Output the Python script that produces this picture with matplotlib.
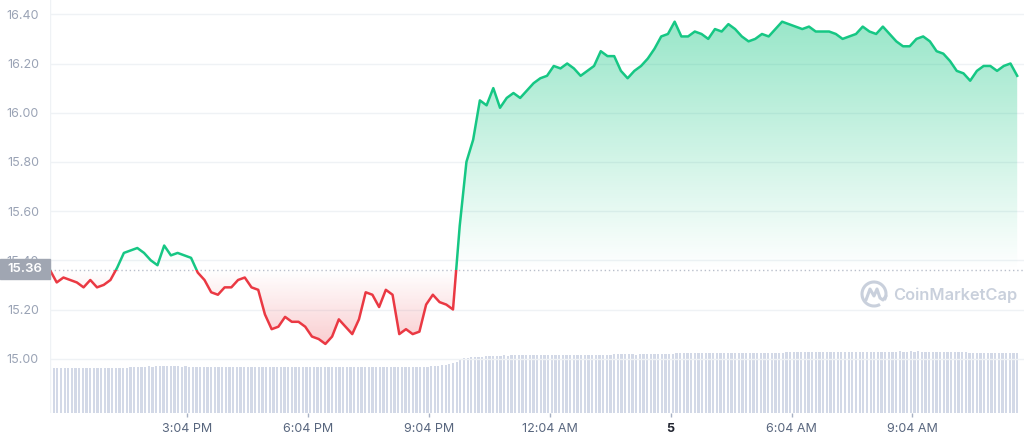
import numpy as np
import matplotlib.pyplot as plt
from matplotlib.patches import Rectangle, Arc
from matplotlib.path import Path

plt.rcParams['font.family'] = ['Inter', 'DejaVu Sans']

#-------------- Data --------------
# price, one point every 10 minutes starting 11:40 AM
price = [
    15.36, 15.31, 15.33, 15.32, 15.31, 15.29, 15.32, 15.29, 15.30, 15.32,
    15.37, 15.43, 15.44, 15.45, 15.43, 15.40, 15.38, 15.46, 15.42, 15.43,
    15.42, 15.41, 15.35, 15.32, 15.27, 15.26, 15.29, 15.29, 15.32, 15.33,
    15.29, 15.28, 15.18, 15.12, 15.13, 15.17, 15.15, 15.15, 15.13, 15.09,
    15.08, 15.06, 15.09, 15.16, 15.13, 15.10, 15.16, 15.27, 15.26, 15.21,
    15.28, 15.26, 15.10, 15.12, 15.10, 15.11, 15.22, 15.26, 15.23, 15.22,
    15.20, 15.54, 15.80, 15.89, 16.05, 16.03, 16.10, 16.02, 16.06, 16.08,
    16.06, 16.09, 16.12, 16.14, 16.15, 16.19, 16.18, 16.20, 16.18, 16.15,
    16.17, 16.19, 16.25, 16.23, 16.23, 16.17, 16.14, 16.17, 16.19, 16.22,
    16.26, 16.31, 16.32, 16.37, 16.31, 16.31, 16.33, 16.32, 16.30, 16.34,
    16.33, 16.36, 16.34, 16.31, 16.29, 16.30, 16.32, 16.31, 16.34, 16.37,
    16.36, 16.35, 16.34, 16.35, 16.33, 16.33, 16.33, 16.32, 16.30, 16.31,
    16.32, 16.35, 16.33, 16.32, 16.35, 16.32, 16.29, 16.27, 16.27, 16.30,
    16.31, 16.29, 16.25, 16.24, 16.21, 16.17, 16.16, 16.13, 16.17, 16.19,
    16.19, 16.17, 16.19, 16.20, 16.15,
]
price_step_min = 10

# volume bars (relative units)
volume = [
    45.0, 45.2, 45.0, 45.1, 45.0, 45.0, 45.2, 45.1, 45.0, 45.0, 45.1, 45.0, 45.0, 45.2, 45.1, 45.0, 45.1, 45.0, 45.2, 45.1,
    45.3, 45.5, 45.6, 45.8, 46.0, 46.2, 46.4, 46.6, 46.5, 46.7, 46.8, 46.6, 46.7, 46.8, 46.6, 46.7, 46.5, 46.6, 46.2, 46.4,
    46.0, 45.9, 46.0, 46.1, 46.0, 46.2, 46.1, 46.0, 46.1, 45.9, 46.0, 46.1, 46.0, 46.0, 46.2, 46.1, 46.0, 45.9, 46.0, 46.1,
    46.0, 46.1, 46.0, 45.9, 46.0, 46.1, 46.0, 46.2, 46.0, 46.1, 46.0, 45.9, 46.0, 46.0, 46.1, 46.0, 46.2, 46.1, 46.0, 46.0,
    46.1, 46.0, 45.9, 46.0, 46.1, 46.0, 46.0, 46.1, 46.0, 46.2, 46.0, 46.1, 46.0, 45.9, 46.0, 46.1, 46.0, 46.0, 46.1, 46.0,
    46.1, 46.2, 46.3, 46.4, 46.6, 47.0, 47.5, 48.0, 48.5, 49.0, 50.0, 51.0, 53.0, 55.0, 55.5, 56.0, 56.0, 56.5, 56.5, 57.0,
    57.0, 57.5, 57.5, 57.4, 57.6, 57.5, 58.0, 58.0, 57.9, 58.0, 58.1, 58.0, 58.0, 57.9, 58.0, 58.1, 58.0, 58.0, 58.0, 58.1,
    58.0, 57.9, 58.0, 58.0, 58.1, 58.0, 58.0, 57.9, 58.0, 58.1, 58.0, 58.0, 58.2, 58.4, 58.6, 58.8, 59.0, 58.9, 59.0, 59.1,
    58.2, 59.0, 59.0, 59.1, 59.0, 58.9, 59.0, 59.2, 59.0, 59.1, 59.0, 60.0, 60.1, 60.0, 59.9, 60.0, 60.1, 60.0, 60.0, 60.2,
    60.0, 60.1, 60.0, 59.9, 60.0, 60.2, 60.1, 60.0, 60.0, 60.1, 60.0, 60.2, 60.1, 60.0, 60.0, 60.1, 60.0, 59.9, 60.0, 60.1,
    60.5, 61.0, 61.0, 61.1, 61.0, 60.9, 61.0, 61.1, 61.0, 61.0, 61.2, 61.0, 61.1, 61.0, 60.9, 61.0, 61.1, 61.0, 61.0, 61.1,
    61.0, 61.1, 61.0, 61.0, 61.2, 61.0, 61.1, 61.0, 61.0, 61.1, 61.0, 61.5, 61.6, 61.5, 61.5, 61.7, 61.5, 61.6, 61.5, 61.5,
    61.5, 61.0, 61.1, 61.0, 61.0, 60.9, 61.0, 61.1, 61.0, 61.0, 61.0, 60.0, 60.1, 60.0, 59.9, 60.0, 60.1, 60.0, 60.0, 60.1,
    60.0, 60.0, 59.9, 60.0, 60.1,
]

open_price = 15.36
y_ticks = [15.00, 15.20, 15.40, 15.60, 15.80, 16.00, 16.20, 16.40]
x_tick_hours = [3.4, 6.4, 9.4, 12.4, 15.4, 18.4, 21.4]
x_tick_labels = ['3:04 PM', '6:04 PM', '9:04 PM', '12:04 AM', '5', '6:04 AM', '9:04 AM']
#------------------------------------

GREEN = '#16c784'
RED = '#ea3943'
GRID = '#eff2f5'

W, H = 1024, 441
px_per_hour = 40.3

price = np.array(price)
t = np.arange(len(price)) * price_step_min / 60
t_vol = np.arange(len(volume)) * 24 / (len(volume) - 1)

fig = plt.figure(figsize=(W / 100, H / 100), dpi=100)
rect = [50 / W, (H - 413) / H, (W - 50) / W, 413 / H]
x_max = (W - 50) / px_per_hour
y_top = 16.40 + 14.3 / 246
y_bot = y_top - 413 / 246

#--------------- volume ---------------
ax_v = fig.add_axes(rect)
ax_v.bar(t_vol, volume, width=2.3 / px_per_hour, color='#d3d9e7', align='center')
ax_v.set_xlim(0, x_max)
ax_v.set_ylim(0, 413)
ax_v.axis('off')

#--------------- price ---------------
ax = fig.add_axes(rect)
ax.patch.set_alpha(0)

# gradient fills, clipped to the area between line and open price
up = ax.fill_between(t, price, open_price, where=price >= open_price, interpolate=True,
                     facecolor='none', edgecolor='none')
dn = ax.fill_between(t, price, open_price, where=price <= open_price, interpolate=True,
                     facecolor='none', edgecolor='none')

g = np.zeros((256, 1, 4))
g[:, 0, :3] = np.array([22, 199, 132]) / 255
g[:, 0, 3] = np.linspace(0.45, 0.0, 256)
im_g = ax.imshow(g, extent=[0, x_max, open_price, 16.40], aspect='auto', zorder=1)
im_g.set_clip_path(Path.make_compound_path(*up.get_paths()), ax.transData)

r = np.zeros((256, 1, 4))
r[:, 0, :3] = np.array([234, 57, 67]) / 255
r[:, 0, 3] = np.linspace(0.0, 0.3, 256)
im_r = ax.imshow(r, extent=[0, x_max, 15.0, open_price], aspect='auto', zorder=1)
im_r.set_clip_path(Path.make_compound_path(*dn.get_paths()), ax.transData)

# grid
for yv in y_ticks:
    ax.axhline(yv, color=GRID, lw=1, zorder=0.5)
ax.axvline(0, color=GRID, lw=1, zorder=0.5)
ax.axhline(open_price, color='#b9bfcb', lw=1, ls=(0, (1, 2)), zorder=2)

# line, green above open price and red below
ln_g, = ax.plot(t, price, color=GREEN, lw=1.8, zorder=3, solid_joinstyle='round')
ln_g.set_clip_path(Rectangle((0, open_price), 30, 5, transform=ax.transData))
ln_r, = ax.plot(t, price, color=RED, lw=1.8, zorder=3, solid_joinstyle='round')
ln_r.set_clip_path(Rectangle((0, open_price - 5), 30, 5, transform=ax.transData))

ax.set_xlim(0, x_max)
ax.set_ylim(y_bot, y_top)
for s in ax.spines.values():
    s.set_visible(False)

ax.set_yticks(y_ticks)
ax.set_yticklabels(['%.2f' % v for v in y_ticks])
ax.tick_params(axis='y', length=0, pad=8, labelsize=9, labelcolor='#9aa3b5')

ax.set_xticks(x_tick_hours)
ax.set_xticklabels(x_tick_labels)
ax.tick_params(axis='x', length=3, width=1, color='#a6b0c3', pad=4, labelsize=9, labelcolor='#58667e')
for lab in ax.get_xticklabels():
    if lab.get_text() == '5':
        lab.set_fontweight('bold')
        lab.set_color('#222531')

#--------------- overlay: open price tag + watermark ---------------
ov = fig.add_axes([0, 0, 1, 1])
ov.set_xlim(0, W)
ov.set_ylim(H, 0)
ov.axis('off')

ov.add_patch(Rectangle((0, 259), 50, 20, color='#a0a6b2', zorder=5))
ov.text(25, 269.5, '15.36', color='white', fontsize=9.5, fontweight='semibold',
        ha='center', va='center', zorder=6)

wm = '#c9d0dc'
ov.add_patch(Arc((874, 294), 24, 24, theta1=60, theta2=390, color=wm, lw=2.2))
ov.plot([866, 870, 874, 877, 880, 883, 886], [300, 289, 296, 289, 298, 300, 296],
        color=wm, lw=2.2, solid_joinstyle='round', solid_capstyle='round')
ov.text(893, 295, 'CoinMarketCap', color=wm, fontsize=11.8, fontweight='semibold',
        ha='left', va='center')

fig.savefig('out.png', dpi=100)
